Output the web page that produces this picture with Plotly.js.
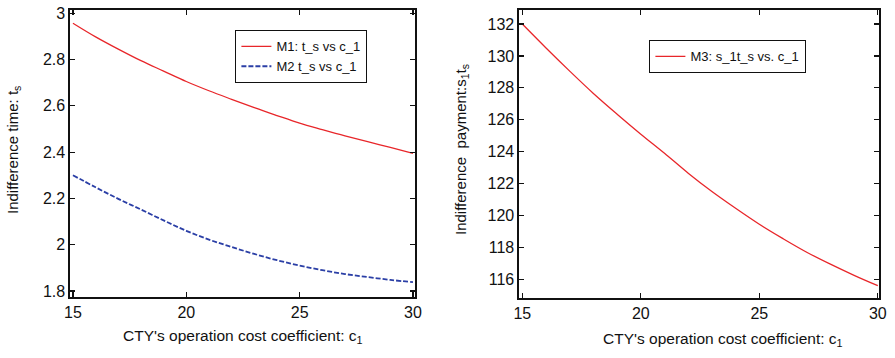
<!DOCTYPE html>
<html>
<head>
<meta charset="utf-8">
<script src="https://cdn.plot.ly/plotly-3.0.1.min.js"></script>
<style>html,body{margin:0;padding:0;background:#fff}#chart{width:895px;height:358px}</style>
</head>
<body>
<div id="chart"></div>
<script>
// c_1 values (x axis, both panels)
const c1 = [15,16,17,18,19,20,21,22,23,24,25,26,27,28,29,30];
// Left panel: indifference time t_s
const m1_ts = [2.957,2.898,2.845,2.795,2.750,2.705,2.665,2.628,2.592,2.558,2.525,2.497,2.470,2.445,2.420,2.395];
const m2_ts = [2.300,2.248,2.198,2.152,2.105,2.060,2.022,1.990,1.960,1.933,1.910,1.890,1.873,1.860,1.848,1.838];
// Right panel: indifference payment s_1 t_s
const m3_pay = [132.0,130.5,129.05,127.65,126.35,125.1,123.9,122.65,121.5,120.45,119.45,118.55,117.7,116.95,116.25,115.6];

const xTicks = [15,20,25,30];
const yTicksLeft = [1.8,2,2.2,2.4,2.6,2.8,3];
const yTickTextLeft = ['1.8','2','2.2','2.4','2.6','2.8','3'];
const yTicksRight = [116,118,120,122,124,126,128,130,132];

const FONT = 'Liberation Sans, Arial, Helvetica, sans-serif';

const traces = [
  {x: c1, y: m1_ts, name: 'M1: t_s vs c_1', type: 'scatter', mode: 'lines',
   line: {color: '#e8262a', width: 1.3, shape: 'spline'}, xaxis: 'x', yaxis: 'y', legend: 'legend'},
  {x: c1, y: m2_ts, name: 'M2 t_s vs c_1', type: 'scatter', mode: 'lines',
   line: {color: '#2b3fa6', width: 1.8, dash: '5px,2px', shape: 'spline'}, xaxis: 'x', yaxis: 'y', legend: 'legend'},
  {x: c1, y: m3_pay, name: 'M3: s_1t_s vs. c_1', type: 'scatter', mode: 'lines',
   line: {color: '#e8262a', width: 1.3, shape: 'spline'}, xaxis: 'x2', yaxis: 'y2', legend: 'legend2'}
];

const axisCommon = {
  showgrid: false, zeroline: false, showline: true, linecolor: '#111', linewidth: 1.6,
  mirror: 'ticks', ticks: 'inside', ticklen: 5, tickwidth: 1.2, tickcolor: '#111',
  tickfont: {family: FONT, size: 16, color: '#111'}
};

const layout = {
  width: 895, height: 358,
  margin: {l: 0, r: 0, t: 0, b: 0},
  paper_bgcolor: '#fff', plot_bgcolor: '#fff',
  showlegend: true,
  xaxis: Object.assign({}, axisCommon, {domain: [0.0782, 0.4637], range: [14.87, 30.09],
    tickvals: xTicks, ticktext: xTicks.map(String), anchor: 'y'}),
  yaxis: Object.assign({}, axisCommon, {domain: [0.1704, 0.9721], range: [1.774, 3.014],
    tickvals: yTicksLeft, ticktext: yTickTextLeft, anchor: 'x'}),
  xaxis2: Object.assign({}, axisCommon, {domain: [0.5799, 0.9821], range: [14.86, 30.05],
    tickvals: xTicks, ticktext: xTicks.map(String), anchor: 'y2'}),
  yaxis2: Object.assign({}, axisCommon, {domain: [0.1676, 0.9721], range: [114.83, 132.88],
    tickvals: yTicksRight, ticktext: yTicksRight.map(String), anchor: 'x2'}),
  legend: {x: 235/895, y: 1 - 30/358, xanchor: 'left', yanchor: 'top',
    bgcolor: '#fff', bordercolor: '#111', borderwidth: 1.4,
    font: {family: FONT, size: 13, color: '#111'}, tracegroupgap: 0},
  legend2: {x: 649/895, y: 1 - 40/358, xanchor: 'left', yanchor: 'top',
    bgcolor: '#fff', bordercolor: '#111', borderwidth: 1.4,
    font: {family: FONT, size: 13, color: '#111'}},
  annotations: [
    {text: 'Indifference time: t<sub>s</sub>', xref: 'paper', yref: 'paper',
     x: 14/895, y: 1 - 150/358, textangle: -90, showarrow: false,
     xanchor: 'center', yanchor: 'middle', font: {family: FONT, size: 15, color: '#111'}},
    {text: "CTY's operation cost coefficient: c<sub>1</sub>", xref: 'paper', yref: 'paper',
     x: 243/895, y: 1 - 336/358, showarrow: false,
     xanchor: 'center', yanchor: 'middle', font: {family: FONT, size: 15.5, color: '#111'}},
    {text: 'Indifference  payment:s<sub>1</sub>t<sub>s</sub>', xref: 'paper', yref: 'paper',
     x: 462/895, y: 1 - 150/358, textangle: -90, showarrow: false,
     xanchor: 'center', yanchor: 'middle', font: {family: FONT, size: 15, color: '#111'}},
    {text: "CTY's operation cost coefficient: c<sub>1</sub>", xref: 'paper', yref: 'paper',
     x: 723/895, y: 1 - 339/358, showarrow: false,
     xanchor: 'center', yanchor: 'middle', font: {family: FONT, size: 15.5, color: '#111'}}
  ]
};

Plotly.newPlot('chart', traces, layout, {staticPlot: true, displayModeBar: false});
</script>
</body>
</html>
